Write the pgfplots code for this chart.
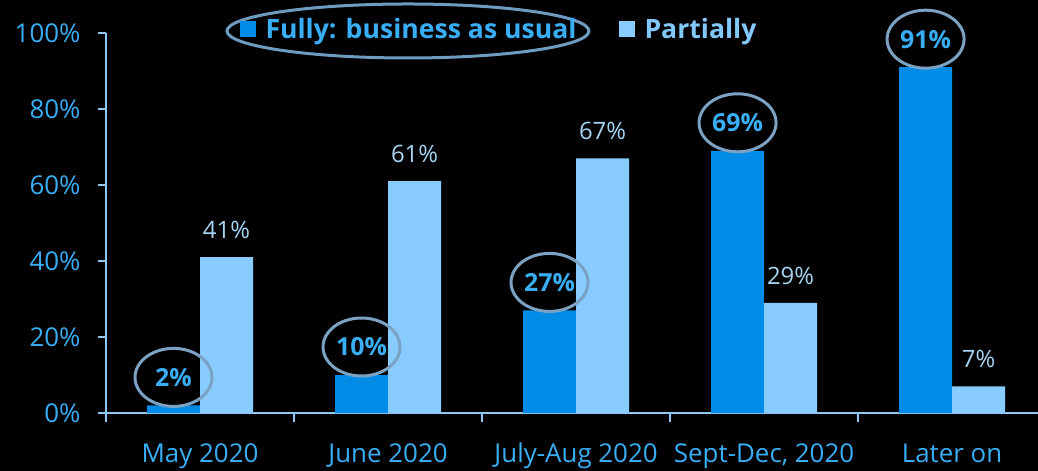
\documentclass[border=0pt]{standalone}
\usepackage{fontspec}
\setmainfont{Open Sans}
\usepackage{pgfplots}
\pgfplotsset{compat=1.18}
\usetikzlibrary{shapes.geometric}
\definecolor{fullc}{HTML}{008CE6}
\definecolor{partc}{HTML}{88CCFF}
\definecolor{labc}{HTML}{3AAEF5}
\definecolor{plegc}{HTML}{82C8FA}
\definecolor{plab}{HTML}{A6D4F2}
\definecolor{axc}{HTML}{8EC8F2}
\definecolor{ellc}{HTML}{7BA2C2}
\definecolor{ellc2}{HTML}{6E9CC0}
\begin{document}
\begin{tikzpicture}
\path[fill=black,use as bounding box] (-106bp,-58bp) rectangle (932bp,413bp);
\begin{axis}[
  at={(0,0)}, anchor=south west,
  scale only axis, width=932bp, height=380bp,
  xmin=-0.5, xmax=4.457, ymin=0, ymax=100,
  ybar, bar width=53bp,
  clip=false,
  axis lines=left,
  axis line style={-, draw=axc, line width=1.5bp},
  xtick={0,1,2,3,4},
  xticklabels={May 2020, June 2020, July-Aug 2020, {Sept-Dec, 2020}, Later on},
  major x tick style={draw=none},
  minor xtick={-0.5,0.5,1.5,2.5,3.5},
  minor x tick style={draw=axc, line width=1.5bp},
  minor tick length=9bp,
  ytick={0,20,40,60,80,100},
  yticklabel={\pgfmathprintnumber{\tick}\%},
  y tick style={draw=axc, line width=1.5bp},
  major tick length=8bp,
  tick align=outside,
  /pgf/number format/assume math mode=true,
  ticklabel style={font=\fontsize{26}{30}\selectfont, text=labc},
  yticklabel style={xshift=-14bp},
  xticklabel style={anchor=base, yshift=-41bp},
  legend style={at={(0.4206,1.0105)}, anchor=center, draw=none, fill=none,
    font=\bfseries\fontsize{26.7}{30}\selectfont, inner sep=0pt,
    nodes={inner sep=0pt},
    /tikz/every odd column/.append style={column sep=10bp},
    /tikz/every even column/.append style={column sep=42bp}},
  legend columns=2,
  legend image code/.code={\fill[#1] (0bp,-8bp) rectangle (16bp,8bp);},
]
\draw[ellc2, line width=3bp] (axis description cs:0.324,1.0053) ellipse [x radius=181bp, y radius=27bp];
\addplot[fill=fullc, draw=none, bar shift=-26.5bp,
  nodes near coords={\pgfmathprintnumber{\pgfplotspointmeta}\%},
  every node near coord/.append style={ellipse, draw=ellc, line width=3bp,
    minimum width=77bp, minimum height=58bp, inner sep=0pt, anchor=center,
    yshift=28bp, text=labc, font=\bfseries\fontsize{25}{30}\selectfont}]
  coordinates {(0,2) (1,10) (2,27) (3,69) (4,91)};
\addlegendentry[text=labc]{Fully: business as usual}
\addplot[fill=partc, draw=none, bar shift=26.5bp,
  nodes near coords={\pgfmathprintnumber{\pgfplotspointmeta}\%},
  every node near coord/.append style={anchor=center, yshift=27bp,
    text=plab, font=\fontsize{24}{28}\selectfont}]
  coordinates {(0,41) (1,61) (2,67) (3,29) (4,7)};
\addlegendentry[text=plegc]{Partially}
\end{axis}
\end{tikzpicture}
\end{document}
